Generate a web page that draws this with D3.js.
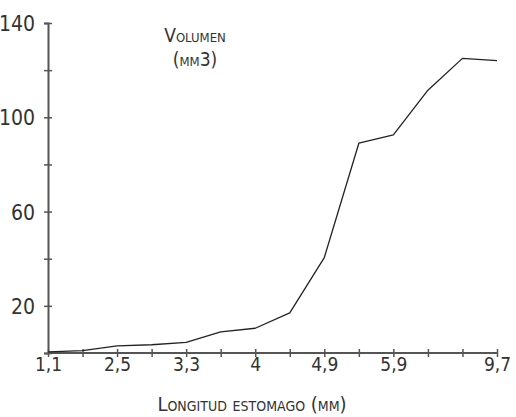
<!DOCTYPE html>
<html><head><meta charset="utf-8">
<script src="https://cdn.jsdelivr.net/npm/d3@7"></script>
<style>
body{margin:0;background:#fff;}
svg{display:block;}
text{font-family:"Liberation Sans Narrow","DejaVu Sans Condensed","Roboto Condensed",sans-serif;fill:#333;}
</style></head><body>
<svg id="c" width="516" height="417"></svg>
<script>
const categories = ["1,1","","2,5","","3,3","","4","","4,9","","5,9","","","9,7"];
const volumen = [0.5, 1, 3, 3.5, 4.5, 9, 10.5, 17, 40.5, 89, 92.5, 111.5, 125, 124];
const yTickValues = [0, 20, 40, 60, 80, 100, 120, 140];
const yTickLabels = ["", "20", "", "60", "", "100", "", "140"];
const yTitle = ["Volumen", "(mm3)"];
const xTitle = "Longitud estomago (mm)";

const svg = d3.select("#c");
const m = {l:48, r:19, t:23, b:64};
const W = 516, H = 417;
const x = d3.scalePoint().domain(d3.range(categories.length)).range([m.l, W - m.r]);
const y = d3.scaleLinear().domain([0, 140]).range([H - m.b, m.t]);

const axisColor = "#555";
// y axis
const ya = svg.append("g").attr("transform", `translate(${m.l},0)`)
  .call(d3.axisLeft(y).tickValues(yTickValues).tickSize(4).tickFormat((d,i)=>yTickLabels[i]));
ya.select(".domain").attr("stroke", axisColor).attr("stroke-width", 2);
ya.selectAll(".tick line").attr("stroke", axisColor).attr("stroke-width", 1.5).attr("x1", 4).attr("x2", -4);
ya.selectAll(".tick text").attr("x", -13).attr("dy", "0.36em").style("font-size", "21px").attr("fill", "#333");

// x axis
const xa = svg.append("g").attr("transform", `translate(0,${y(0)})`)
  .call(d3.axisBottom(x).tickSize(4).tickFormat(i => categories[i]));
xa.select(".domain").attr("stroke", axisColor).attr("stroke-width", 2).attr("d", `M${m.l},0H${W-m.r}`);
xa.selectAll(".tick line").attr("stroke", axisColor).attr("stroke-width", 1.5).attr("y1", -4).attr("y2", 4);
xa.selectAll(".tick text").attr("y", 5).attr("dy", "0.71em").style("font-size", "19px").attr("fill", "#333");

// line
const line = d3.line().x((d,i)=>x(i)).y(d=>y(d));
svg.append("path").datum(volumen).attr("d", line)
  .attr("fill", "none").attr("stroke", "#222").attr("stroke-width", 1.3).attr("stroke-linejoin", "round");

// titles
svg.append("text").attr("x", 195).attr("y", 42).attr("text-anchor", "middle")
  .style("font-size", "19px").style("font-variant", "small-caps").text(yTitle[0]);
svg.append("text").attr("x", 195).attr("y", 66).attr("text-anchor", "middle")
  .style("font-size", "19px").style("font-variant", "small-caps").text(yTitle[1]);
svg.append("text").attr("x", 252).attr("y", 411).attr("text-anchor", "middle")
  .style("font-size", "20px").style("font-variant", "small-caps").text(xTitle);
</script>
</body></html>
